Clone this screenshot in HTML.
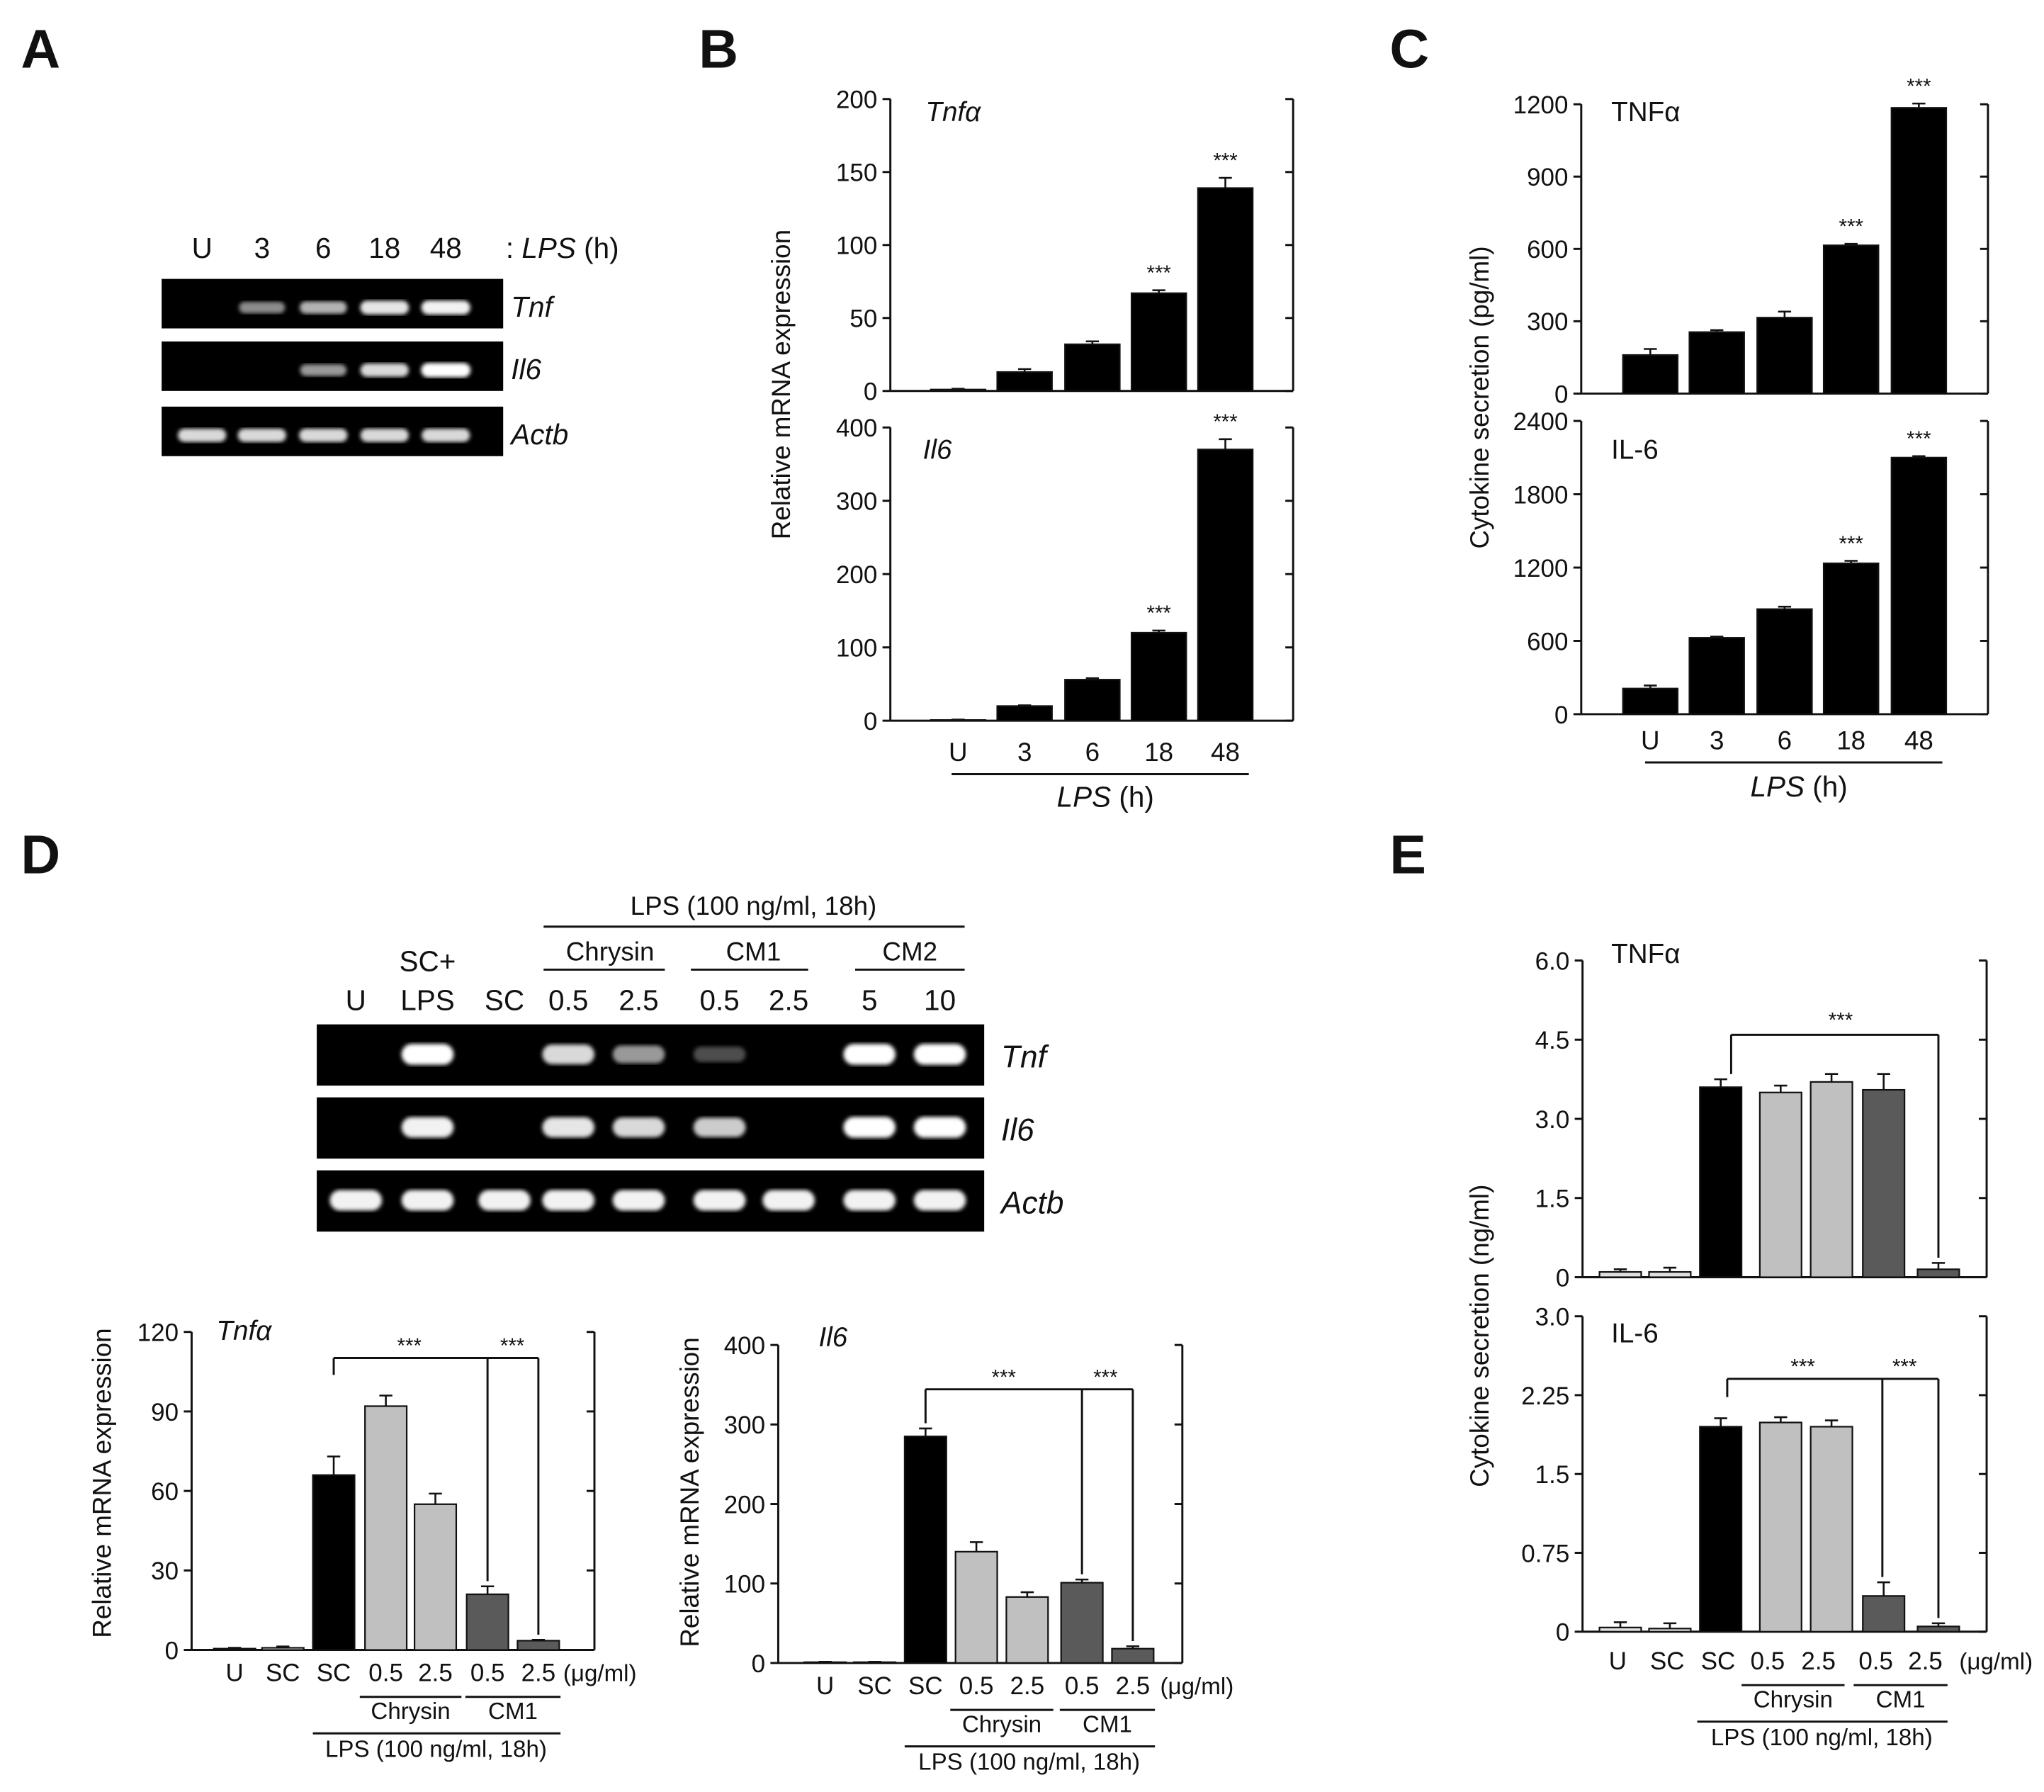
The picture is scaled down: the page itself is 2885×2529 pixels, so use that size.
<!DOCTYPE html>
<html><head><meta charset="utf-8"><style>
html,body{margin:0;padding:0;background:#fff;}
svg{display:block;font-family:"Liberation Sans",Arial,sans-serif;}
</style></head><body>
<svg id="fig" width="2885" height="2529" viewBox="0 0 1568 1375" preserveAspectRatio="none" xmlns="http://www.w3.org/2000/svg">
<g font-weight="bold" font-size="42" fill="#111">
<text x="16" y="52">A</text>
<text x="536" y="52">B</text>
<text x="1066" y="52">C</text>
<text x="16" y="670">D</text>
<text x="1066" y="670">E</text>
</g>
<g id="layer"></g>
</svg>
<script>
// ---- data ----
const bTimeLabels=["U","3","6","18","48"];
const bTnfValues=[1,13,32,67,139];
const bTnfErrors=[0.5,2,2,2,7];
const bTnfSig=["","","","***","***"];
const bIl6Values=[1,20,56,120,370];
const bIl6Errors=[0.5,1,2,3,14];
const bIl6Sig=["","","","***","***"];
const cTnfValues=[160,255,315,615,1185];
const cTnfErrors=[25,8,25,6,18];
const cTnfSig=["","","","***","***"];
const cIl6Values=[210,625,860,1235,2100];
const cIl6Errors=[25,10,20,20,12];
const cIl6Sig=["","","","***","***"];
const treatLabels=["U","SC","SC","0.5","2.5","0.5","2.5"];
const dTnfValues=[0.5,0.8,66,92,55,21,3.5];
const dTnfErrors=[0.3,0.5,7,4,4,3,0.3];
const dIl6Values=[1,1,285,140,83,101,18];
const dIl6Errors=[0.5,0.5,10,12,6,4,3];
const eTnfValues=[0.1,0.1,3.6,3.5,3.7,3.55,0.15];
const eTnfErrors=[0.05,0.08,0.15,0.13,0.15,0.3,0.12];
const eIl6Values=[0.04,0.03,1.95,1.99,1.95,0.34,0.05];
const eIl6Errors=[0.05,0.05,0.08,0.05,0.06,0.13,0.03];
const dColors=["#fff","#fff","#000","#c0c0c0","#c0c0c0","#5a5a5a","#5a5a5a"];
const eColors=["#e0e0e0","#e0e0e0","#000","#c0c0c0","#c0c0c0","#5a5a5a","#5a5a5a"];

const NS="http://www.w3.org/2000/svg";
const layer=document.getElementById('layer');
function mk(tag,attrs,parent,text){const e=document.createElementNS(NS,tag);for(const k in attrs)e.setAttribute(k,attrs[k]);if(text!==undefined)e.textContent=text;(parent||layer).appendChild(e);return e;}
function line(x1,y1,x2,y2,p,w){return mk('line',{x1,y1,x2,y2,stroke:'#111','stroke-width':w||1.6},p);}
function txt(x,y,s,o,p){o=o||{};const e=mk('text',Object.assign({x,y,'font-size':19,'text-anchor':'middle',fill:'#111'},o),p,s);return e;}

function chart(cfg){
  const g=mk('g',{});
  
  
  const L=cfg.left,R=cfg.right,T=cfg.top,B=cfg.bottom;
  const y=v=>B-(v-cfg.min)/(cfg.max-cfg.min)*(B-T);
  line(L,T,L,B,g);line(R,T,R,B,g);line(L,B,R,B,g);
  cfg.ticks.forEach((t,i)=>{const yy=y(t);line(L-6,yy,L,yy,g);line(R-6,yy,R,yy,g);
    const tl=txt(L-10,yy+7,cfg.tickLabels[i],{'text-anchor':'end'},g);
    });
  cfg.values.forEach((v,i)=>{
    const cx=cfg.centers[i],w=cfg.barW;
    const r=mk('rect',{x:cx-w/2,y:y(v),width:w,height:B-y(v),fill:cfg.colors?cfg.colors[i]:'#000',stroke:'#111','stroke-width':1.2},g);
    
    
    const e=cfg.errors[i];const top=y(v+e);
    line(cx,y(v),cx,top,g,1.4);line(cx-5,top,cx+5,top,g,1.4);
    if(cfg.sig&&cfg.sig[i]){const s=txt(cx,top-8,cfg.sig[i],{'font-size':16},g);}
  });
  const ti=txt(cfg.titleX,cfg.titleY,cfg.title,{'text-anchor':'start','font-size':21,'font-style':cfg.italic?'italic':'normal'},g);
  
  return {g,y};
}
function ytitle(x,y,s,name){const e=txt(x,y,s,{'font-size':20,transform:`rotate(-90 ${x} ${y})`});}

// ---- Panel B ----
const bC=[735,786,838,889,940];
chart({name:'chart-b-tnf',left:683,right:992,top:76,bottom:300,min:0,max:200,ticks:[0,50,100,150,200],tickLabels:["0","50","100","150","200"],values:bTnfValues,errors:bTnfErrors,sig:bTnfSig,centers:bC,barW:42,title:'Tnfα',italic:true,titleX:710,titleY:93});
chart({name:'chart-b-il6',left:683,right:992,top:328,bottom:553,min:0,max:400,ticks:[0,100,200,300,400],tickLabels:["0","100","200","300","400"],values:bIl6Values,errors:bIl6Errors,sig:bIl6Sig,centers:bC,barW:42,title:'Il6',italic:true,titleX:708,titleY:352});
bTimeLabels.forEach((s,i)=>{const e=txt(bC[i],584,s,{'font-size':20});});
line(730,594,958,594);
txt(848,619,'',{'font-size':22}).innerHTML='<tspan font-style="italic">LPS</tspan> (h)';
ytitle(606,295,'Relative mRNA expression','y-axis-title-b');

// ---- Panel C ----
const cC=[1266,1317,1369,1420,1472];
chart({name:'chart-c-tnf',left:1213,right:1525,top:80,bottom:302,min:0,max:1200,ticks:[0,300,600,900,1200],tickLabels:["0","300","600","900","1200"],values:cTnfValues,errors:cTnfErrors,sig:cTnfSig,centers:cC,barW:42,title:'TNFα',titleX:1236,titleY:93});
chart({name:'chart-c-il6',left:1213,right:1525,top:323,bottom:548,min:0,max:2400,ticks:[0,600,1200,1800,2400],tickLabels:["0","600","1200","1800","2400"],values:cIl6Values,errors:cIl6Errors,sig:cIl6Sig,centers:cC,barW:42,title:'IL-6',titleX:1236,titleY:352});
bTimeLabels.forEach((s,i)=>{const e=txt(cC[i],575,s,{'font-size':20});});
line(1262,585,1490,585);
txt(1380,611,'',{'font-size':22}).innerHTML='<tspan font-style="italic">LPS</tspan> (h)';
ytitle(1142,305,'Cytokine secretion (pg/ml)','y-axis-title-c');

// ---- shared x-axis groups ----
function groups(centers,y0,unitX){
  treatLabels.forEach((s,i)=>{const e=txt(centers[i],y0,s,{'font-size':19});});
  txt(unitX,y0,'(μg/ml)',{'font-size':18,'text-anchor':'start'});
  const ch1=(centers[3]+centers[4])/2, cm=(centers[5]+centers[6])/2;
  line(centers[3]-20,y0+12,centers[4]+20,y0+12);txt(ch1,y0+29,'Chrysin',{'font-size':18});
  line(centers[5]-17,y0+12,centers[6]+17,y0+12);txt(cm,y0+29,'CM1',{'font-size':18});
  line(centers[2]-16,y0+40,centers[6]+17,y0+40);txt((centers[2]+centers[6])/2,y0+58,'LPS (100 ng/ml, 18h)',{'font-size':18});
}

// ---- Panel D charts ----
const dC1=[180,217,256,296,334,374,413];
const d1=chart({name:'chart-d-tnf',left:147,right:456,top:1022,bottom:1266,min:0,max:120,ticks:[0,30,60,90,120],tickLabels:["0","30","60","90","120"],values:dTnfValues,errors:dTnfErrors,centers:dC1,barW:32,colors:dColors,title:'Tnfα',italic:true,titleX:166,titleY:1028});
line(256,1042,413,1042);line(256,1042,256,1055);line(374,1042,374,d1.y(dTnfValues[5]+dTnfErrors[5])-4);line(413,1042,413,d1.y(dTnfValues[6]+dTnfErrors[6])-4);
txt(314,1038,'***',{'font-size':16});txt(393,1038,'***',{'font-size':16});
groups(dC1,1290,432);
ytitle(85,1138,'Relative mRNA expression','y-axis-title-d1');

const dC2=[633,671,710,749,788,830,869];
const d2=chart({name:'chart-d-il6',left:597,right:907,top:1032,bottom:1276,min:0,max:400,ticks:[0,100,200,300,400],tickLabels:["0","100","200","300","400"],values:dIl6Values,errors:dIl6Errors,centers:dC2,barW:32,colors:dColors,title:'Il6',italic:true,titleX:628,titleY:1033});
line(710,1066,869,1066);line(710,1066,710,d2.y(dIl6Values[2]+dIl6Errors[2])-4);line(830,1066,830,d2.y(dIl6Values[5]+dIl6Errors[5])-4);line(869,1066,869,d2.y(dIl6Values[6]+dIl6Errors[6])-4);
txt(770,1062,'***',{'font-size':16});txt(848,1062,'***',{'font-size':16});
groups(dC2,1300,890);
ytitle(536,1145,'Relative mRNA expression','y-axis-title-d2');

// ---- Panel E ----
const eC=[1243,1281,1320,1366,1405,1445,1487];
const e1=chart({name:'chart-e-tnf',left:1214,right:1524,top:737,bottom:980,min:0,max:6,ticks:[0,1.5,3,4.5,6],tickLabels:["0","1.5","3.0","4.5","6.0"],values:eTnfValues,errors:eTnfErrors,centers:eC,barW:32,colors:eColors,title:'TNFα',titleX:1236,titleY:739});
line(1328,794,1487,794);line(1328,794,1328,e1.y(eTnfValues[2]+eTnfErrors[2])-4);line(1487,794,1487,e1.y(eTnfValues[6]+eTnfErrors[6])-4);
txt(1412,788,'***',{'font-size':16});
const e2=chart({name:'chart-e-il6',left:1214,right:1524,top:1010,bottom:1252,min:0,max:3,ticks:[0,0.75,1.5,2.25,3],tickLabels:["0","0.75","1.5","2.25","3.0"],values:eIl6Values,errors:eIl6Errors,centers:eC,barW:32,colors:eColors,title:'IL-6',titleX:1236,titleY:1030});
line(1325,1058,1487,1058);line(1325,1058,1325,1072);line(1444,1058,1444,e2.y(eIl6Values[5]+eIl6Errors[5])-4);line(1487,1058,1487,e2.y(eIl6Values[6]+eIl6Errors[6])-4);
txt(1383,1054,'***',{'font-size':16});txt(1461,1054,'***',{'font-size':16});
groups([1241,1279,1318,1356,1395,1439,1477],1281,1503);
ytitle(1142,1025,'Cytokine secretion (ng/ml)','y-axis-title-e');

// ---- Gels ----
function band(x,y,w,h,op,p){const r=mk('rect',{x:x-w/2,y:y-h/2,width:w,height:h,rx:h/2,fill:'#fff',opacity:op,filter:'url(#blur)'},p);}
mk('defs',{}).innerHTML='<filter id="blur"><feGaussianBlur stdDeviation="1.6"/></filter>';
// Panel A
const aLanes=[155,201,248,295,342];
const aLaneLabels=["U","3","6","18","48"];
const aTnfBand=[0,0.55,0.7,0.9,0.95];
const aIl6Band=[0,0,0.6,0.85,1];
const aActbBand=[0.85,0.85,0.85,0.85,0.85];
const gA=mk('g',{});
[[214,aTnfBand,'Tnf'],[262,aIl6Band,'Il6'],[312,aActbBand,'Actb']].forEach(([yy,arr,nm])=>{
  mk('rect',{x:124,y:yy,width:262,height:38,fill:'#000'},gA);
  arr.forEach((o,i)=>{if(o>0)band(aLanes[i],yy+22,32+o*6,6+o*5,o,gA);});
  txt(392,yy+29,nm,{'font-size':22,'font-style':'italic','text-anchor':'start'},gA);
});
aLaneLabels.forEach((s,i)=>txt(aLanes[i],198,s,{'font-size':22},gA));
txt(388,198,'',{'font-size':22,'text-anchor':'start'},gA).innerHTML=': <tspan font-style="italic">LPS</tspan>  (h)';
// Panel D gel
const dLanes=[273,328,387,436,490,552,605,667,721];
const dTnfBand=[0,1,0,0.85,0.6,0.3,0,1,1];
const dIl6Band=[0,0.95,0,0.9,0.85,0.8,0,1,1];
const dActbBand=[0.95,0.95,0.95,0.95,0.95,0.95,0.95,0.95,0.95];
const gD=mk('g',{});
[[786,dTnfBand,'Tnf'],[842,dIl6Band,'Il6'],[898,dActbBand,'Actb']].forEach(([yy,arr,nm])=>{
  mk('rect',{x:243,y:yy,width:512,height:47,fill:'#000'},gD);
  arr.forEach((o,i)=>{if(o>0)band(dLanes[i],yy+23,40,10+o*6,o,gD);});
  txt(768,yy+33,nm,{'font-size':24,'font-style':'italic','text-anchor':'start'},gD);
});
["U","LPS","SC","0.5","2.5","0.5","2.5","5","10"].forEach((s,i)=>txt(dLanes[i],775,s,{'font-size':22},gD));
txt(328,745,'SC+',{'font-size':22},gD);
line(417,744,510,744,gD);txt(468,737,'Chrysin',{'font-size':20},gD);
line(530,744,620,744,gD);txt(578,737,'CM1',{'font-size':20},gD);
line(656,744,740,744,gD);txt(698,737,'CM2',{'font-size':20},gD);
line(417,711,740,711,gD);txt(578,702,'LPS (100 ng/ml, 18h)',{'font-size':20},gD);
</script>
</body></html>
